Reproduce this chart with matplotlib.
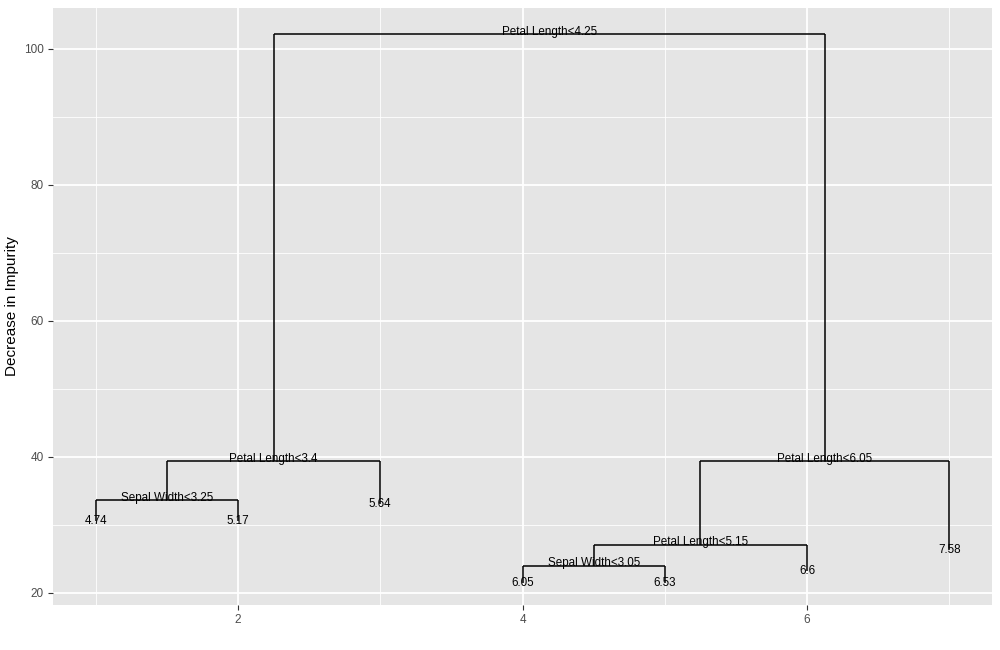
import matplotlib
matplotlib.use("Agg")
import matplotlib.pyplot as plt
from matplotlib.ticker import MultipleLocator

# --------------------------------------------------
# DATA
# --------------------------------------------------

# leaves, in plotting order (x = 1..7)
leaf_labels = ["4.74", "5.17", "5.64", "6.05", "6.53", "6.6", "7.58"]
leaf_y = [30.6, 30.6, 33.1, 21.5, 21.5, 23.2, 26.3]

# internal splits: label, height, (left child, right child)
split_labels = [
    "Sepal Width<3.25",
    "Petal Length<3.4",
    "Sepal Width<3.05",
    "Petal Length<5.15",
    "Petal Length<6.05",
    "Petal Length<4.25",
]
split_y = [33.7, 39.4, 24.0, 27.1, 39.4, 102.2]
split_children = [
    ("L0", "L1"),
    ("N0", "L2"),
    ("L3", "L4"),
    ("N2", "L5"),
    ("N3", "L6"),
    ("N1", "N4"),
]

x_ticks = [2, 4, 6]
y_ticks = [20, 40, 60, 80, 100]

# --------------------------------------------------
# LAYOUT
# --------------------------------------------------

pos = {}
for i, y in enumerate(leaf_y):
    pos["L%d" % i] = (i + 1, y)
for i, (a, b) in enumerate(split_children):
    pos["N%d" % i] = ((pos[a][0] + pos[b][0]) / 2, split_y[i])

# --------------------------------------------------
# PLOT
# --------------------------------------------------

plt.rcParams["font.family"] = ["Liberation Sans", "DejaVu Sans"]

fig = plt.figure(figsize=(10, 6.5), dpi=100)
ax = fig.add_axes([0.053, 0.0692, 0.939, 0.9185])

ax.set_facecolor("#E5E5E5")
for s in ax.spines.values():
    s.set_visible(False)

ax.xaxis.set_major_locator(MultipleLocator(2))
ax.xaxis.set_minor_locator(MultipleLocator(1))
ax.yaxis.set_major_locator(MultipleLocator(20))
ax.yaxis.set_minor_locator(MultipleLocator(10))
ax.grid(which="major", color="white", lw=1.3)
ax.grid(which="minor", color="white", lw=0.6)
ax.set_axisbelow(True)

line_kw = dict(color="black", lw=1.1, solid_capstyle="butt", zorder=3)
for i, (a, b) in enumerate(split_children):
    xa, ya = pos[a]
    xb, yb = pos[b]
    y = split_y[i]
    ax.plot([xa, xb], [y, y], **line_kw)
    ax.plot([xa, xa], [y, ya], **line_kw)
    ax.plot([xb, xb], [y, yb], **line_kw)

for i, lab in enumerate(split_labels):
    x, y = pos["N%d" % i]
    ax.annotate(lab, (x, y), xytext=(0, 1.5), textcoords="offset points",
                ha="center", va="center", fontsize=8.4, zorder=4)

for i, lab in enumerate(leaf_labels):
    x, y = pos["L%d" % i]
    ax.text(x, y, lab, ha="center", va="center", fontsize=8.4, zorder=4)

ax.set_xlim(0.7, 7.3)
ax.set_ylim(18.2, 106.0)
ax.set_xticks(x_ticks)
ax.set_yticks(y_ticks)
ax.set_ylabel("Decrease in Impurity", fontsize=11, labelpad=4)

ax.tick_params(which="major", length=3.5, width=0.8, color="#333333",
               labelcolor="#4D4D4D", labelsize=8.5, pad=3)
ax.tick_params(which="minor", length=0)

fig.savefig("out.png", dpi=100)
plt.close(fig)
